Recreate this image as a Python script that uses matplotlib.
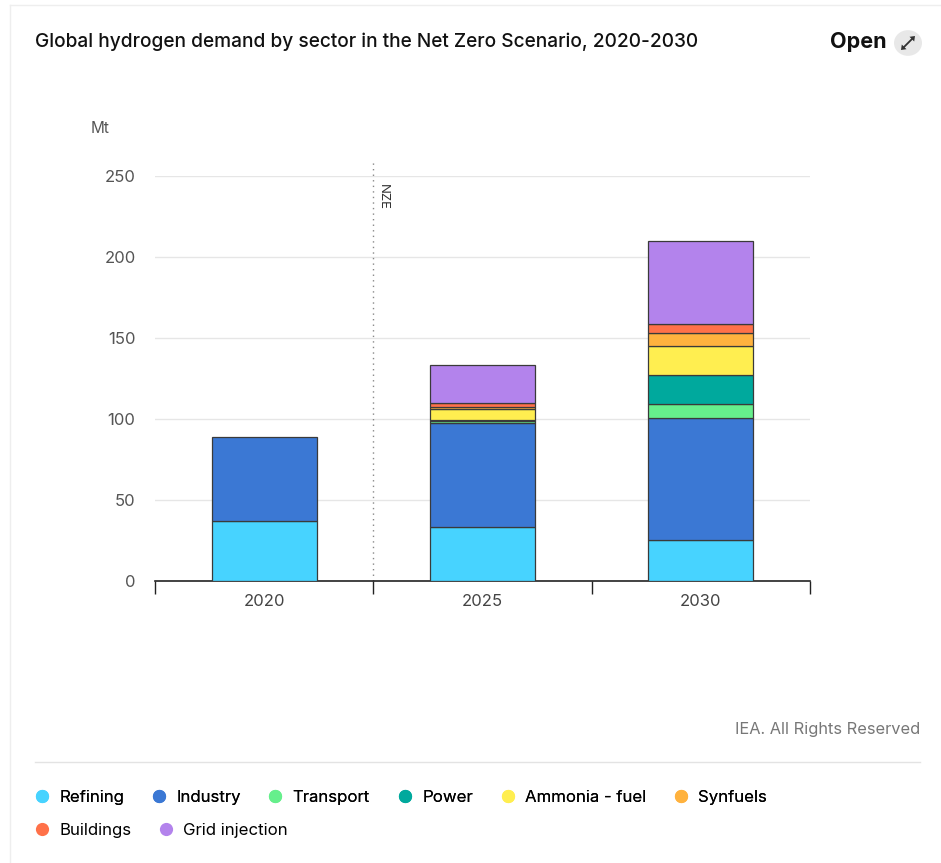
import matplotlib.pyplot as plt
import numpy as np
from matplotlib.lines import Line2D
from matplotlib.patches import Circle, Polygon

plt.rcParams["font.family"] = ["Inter", "DejaVu Sans"]

years = ["2020", "2025", "2030"]
sectors = ["Refining", "Industry", "Transport", "Power", "Ammonia - fuel",
           "Synfuels", "Buildings", "Grid injection"]
refining = [37, 33.5, 25.5]
industry = [52, 64, 75]
transport = [0, 1.2, 8.5]
power = [0, 0.5, 18]
ammonia = [0, 7, 18]
synfuels = [0, 1.2, 8]
buildings = [0, 2.5, 5.5]
grid = [0, 23.5, 51.5]
colors = ["#47d3ff", "#3b78d4", "#66ef8c", "#00a99d", "#ffee50",
          "#ffb23e", "#ff7149", "#b383ec"]
yticks = [0, 50, 100, 150, 200, 250]

series = [refining, industry, transport, power, ammonia, synfuels, buildings, grid]

W, H = 941, 863
fig = plt.figure(figsize=(W / 100, H / 100), dpi=100)
ax = fig.add_axes([155 / W, (H - 581) / H, 655 / W, 405 / H])

x = np.arange(len(years))
bottom = np.zeros(len(years))
for vals, c, name in zip(series, colors, sectors):
    vals = np.array(vals, dtype=float)
    keep = vals > 0
    ax.bar(x[keep], vals[keep], width=0.48, bottom=bottom[keep], color=c,
           edgecolor="#3a3a3a", linewidth=0.9, label=name, zorder=3)
    bottom += vals

ax.set_xlim(-0.5, 2.5)
ax.set_ylim(0, 250)
ax.set_yticks(yticks)
ax.tick_params(axis="y", length=0, colors="#555555", labelsize=12, pad=14)
ax.set_xticks(x)
ax.set_xticklabels(years)
ax.tick_params(axis="x", length=0, colors="#444444", labelsize=12, pad=9)
ax.set_xticks([-0.5, 0.5, 1.5, 2.5], minor=True)
ax.tick_params(axis="x", which="minor", length=9, width=1, color="#222222", direction="out")
ax.grid(axis="y", color="#e6e6e6", linewidth=1, zorder=0)
for s in ["top", "right", "left"]:
    ax.spines[s].set_visible(False)
ax.spines["bottom"].set_color("#222222")
ax.spines["bottom"].set_linewidth(1.2)

# NZE marker
ax.axvline(0.5, ymin=0, ymax=1.04, color="#888888", linestyle=(0, (1, 3)),
           linewidth=1, clip_on=False, zorder=2)
ax.text(0.545, 245, "NZE", rotation=-90, ha="center", va="top", fontsize=9.5,
        color="#333333")

fig.text(100 / W, 1 - 128 / H, "Mt", ha="center", va="center", fontsize=11,
         color="#555555")

# header
fig.text(35 / W, 1 - 42 / H, "Global hydrogen demand by sector in the Net Zero Scenario, 2020-2030",
         ha="left", va="center", fontsize=13.75, color="#111111", fontweight="medium")
fig.text(887 / W, 1 - 42 / H, "Open", ha="right", va="center", fontsize=15.5,
         color="#111111", fontweight="bold")


def px(pts):
    return [(px_x / W, 1 - px_y / H) for px_x, px_y in pts]


# expand icon
fig.patches.append(Circle((908 / W, 1 - 43 / H), 14 / W, transform=fig.transFigure,
                          facecolor="#e8e8e8", edgecolor="none"))
fig.add_artist(Line2D(*zip(*px([(903.5, 47.5), (912.5, 38.5)])), color="#333333",
                      linewidth=1.3, transform=fig.transFigure))
fig.patches.append(Polygon(px([(915, 36), (909.5, 36.8), (914.2, 41.5)]),
                           transform=fig.transFigure, facecolor="#333333", edgecolor="none"))
fig.patches.append(Polygon(px([(901, 50), (906.5, 49.2), (901.8, 44.5)]),
                           transform=fig.transFigure, facecolor="#333333", edgecolor="none"))

fig.text(920 / W, 1 - 729 / H, "IEA. All Rights Reserved", ha="right", va="center",
         fontsize=11.8, color="#777777")

# frame lines
fig.add_artist(Line2D([35 / W, 920 / W], [1 - 762 / H, 1 - 762 / H],
                      color="#e3e3e3", linewidth=1, transform=fig.transFigure))
fig.add_artist(Line2D([10 / W, 10 / W], [0, 1 - 5 / H], color="#eeeeee",
                      linewidth=1, transform=fig.transFigure))
fig.add_artist(Line2D([10 / W, 1], [1 - 5 / H, 1 - 5 / H], color="#eeeeee",
                      linewidth=1, transform=fig.transFigure))


# legend
def handles(idx):
    return [Line2D([], [], marker="o", linestyle="none", markersize=9.5,
                   markerfacecolor=colors[i], markeredgecolor="none") for i in idx]


leg_kw = dict(loc="center left", frameon=False, fontsize=12.1, handlelength=0.8,
              handletextpad=0.63, columnspacing=1.67, borderaxespad=0, borderpad=0)
row1 = list(range(6))
row2 = [6, 7]
leg1 = fig.legend(handles(row1), [sectors[i] for i in row1], ncol=6,
                  bbox_to_anchor=(35 / W, 1 - 797 / H), **leg_kw)
fig.legend(handles(row2), [sectors[i] for i in row2], ncol=2,
           bbox_to_anchor=(35 / W, 1 - 830 / H), **leg_kw)
fig.add_artist(leg1)

fig.savefig("out.png", dpi=100)
